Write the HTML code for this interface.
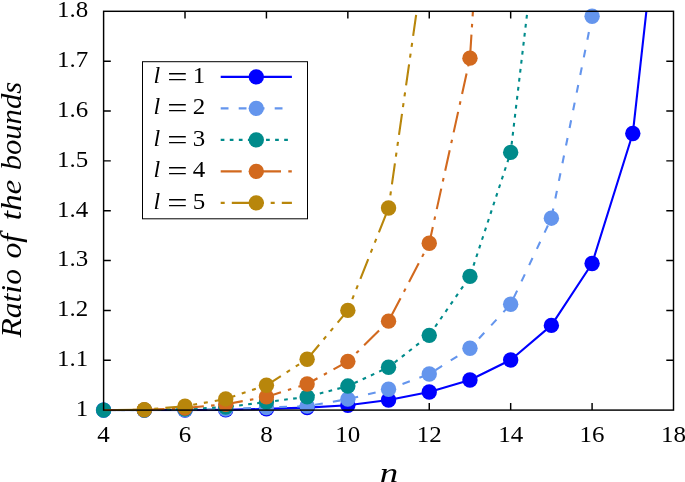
<!DOCTYPE html>
<html><head><meta charset="utf-8"><title>Ratio of the bounds</title>
<style>
html,body{margin:0;padding:0;background:#fff}
svg{display:block}
.t{font-family:"Liberation Serif","DejaVu Serif",serif;font-size:24px;fill:#000}
.L{font-family:"Liberation Serif","DejaVu Serif",serif;font-size:30px;font-style:italic;fill:#000}
</style></head><body>
<svg width="685" height="482" viewBox="0 0 685 482">
<rect width="685" height="482" fill="#fff"/>
<defs><clipPath id="c"><rect x="103.60" y="11.30" width="569.90" height="400.00"/></clipPath></defs>
<path d="M185.01 410.10v-7.20 M185.01 11.30v7.20" stroke="#000" stroke-width="1.45" fill="none"/>
<path d="M266.43 410.10v-7.20 M266.43 11.30v7.20" stroke="#000" stroke-width="1.45" fill="none"/>
<path d="M347.84 410.10v-7.20 M347.84 11.30v7.20" stroke="#000" stroke-width="1.45" fill="none"/>
<path d="M429.26 410.10v-7.20 M429.26 11.30v7.20" stroke="#000" stroke-width="1.45" fill="none"/>
<path d="M510.67 410.10v-7.20 M510.67 11.30v7.20" stroke="#000" stroke-width="1.45" fill="none"/>
<path d="M592.09 410.10v-7.20 M592.09 11.30v7.20" stroke="#000" stroke-width="1.45" fill="none"/>
<path d="M103.60 360.25h7.20 M673.50 360.25h-7.20" stroke="#000" stroke-width="1.45" fill="none"/>
<path d="M103.60 310.40h7.20 M673.50 310.40h-7.20" stroke="#000" stroke-width="1.45" fill="none"/>
<path d="M103.60 260.55h7.20 M673.50 260.55h-7.20" stroke="#000" stroke-width="1.45" fill="none"/>
<path d="M103.60 210.70h7.20 M673.50 210.70h-7.20" stroke="#000" stroke-width="1.45" fill="none"/>
<path d="M103.60 160.85h7.20 M673.50 160.85h-7.20" stroke="#000" stroke-width="1.45" fill="none"/>
<path d="M103.60 111.00h7.20 M673.50 111.00h-7.20" stroke="#000" stroke-width="1.45" fill="none"/>
<path d="M103.60 61.15h7.20 M673.50 61.15h-7.20" stroke="#000" stroke-width="1.45" fill="none"/>
<polyline clip-path="url(#c)" points="103.60,410.10 144.31,410.10 185.01,410.10 225.72,409.85 266.43,408.90 307.14,407.61 347.84,405.31 388.55,400.03 429.26,392.00 469.96,380.04 510.67,359.95 551.38,325.40 592.09,263.54 632.79,133.53 673.50,-232.96" fill="none" stroke="#0000ff" stroke-width="2.1" stroke-linejoin="round"/>
<circle cx="103.60" cy="410.10" r="7.7" fill="#0000ff"/>
<circle cx="144.31" cy="410.10" r="7.7" fill="#0000ff"/>
<circle cx="185.01" cy="410.10" r="7.7" fill="#0000ff"/>
<circle cx="225.72" cy="409.85" r="7.7" fill="#0000ff"/>
<circle cx="266.43" cy="408.90" r="7.7" fill="#0000ff"/>
<circle cx="307.14" cy="407.61" r="7.7" fill="#0000ff"/>
<circle cx="347.84" cy="405.31" r="7.7" fill="#0000ff"/>
<circle cx="388.55" cy="400.03" r="7.7" fill="#0000ff"/>
<circle cx="429.26" cy="392.00" r="7.7" fill="#0000ff"/>
<circle cx="469.96" cy="380.04" r="7.7" fill="#0000ff"/>
<circle cx="510.67" cy="359.95" r="7.7" fill="#0000ff"/>
<circle cx="551.38" cy="325.40" r="7.7" fill="#0000ff"/>
<circle cx="592.09" cy="263.54" r="7.7" fill="#0000ff"/>
<circle cx="632.79" cy="133.53" r="7.7" fill="#0000ff"/>
<polyline clip-path="url(#c)" points="103.60,410.10 144.31,410.10 185.01,409.85 225.72,409.10 266.43,407.51 307.14,406.11 347.84,399.13 388.55,389.31 429.26,374.06 469.96,348.29 510.67,304.27 551.38,218.18 592.09,16.29" fill="none" stroke="#6495ed" stroke-width="2.1" stroke-linejoin="round" stroke-dasharray="7.8 10.2" stroke-dashoffset="4.32"/>
<circle cx="103.60" cy="410.10" r="7.7" fill="#6495ed"/>
<circle cx="144.31" cy="410.10" r="7.7" fill="#6495ed"/>
<circle cx="185.01" cy="409.85" r="7.7" fill="#6495ed"/>
<circle cx="225.72" cy="409.10" r="7.7" fill="#6495ed"/>
<circle cx="266.43" cy="407.51" r="7.7" fill="#6495ed"/>
<circle cx="307.14" cy="406.11" r="7.7" fill="#6495ed"/>
<circle cx="347.84" cy="399.13" r="7.7" fill="#6495ed"/>
<circle cx="388.55" cy="389.31" r="7.7" fill="#6495ed"/>
<circle cx="429.26" cy="374.06" r="7.7" fill="#6495ed"/>
<circle cx="469.96" cy="348.29" r="7.7" fill="#6495ed"/>
<circle cx="510.67" cy="304.27" r="7.7" fill="#6495ed"/>
<circle cx="551.38" cy="218.18" r="7.7" fill="#6495ed"/>
<circle cx="592.09" cy="16.29" r="7.7" fill="#6495ed"/>
<polyline clip-path="url(#c)" points="103.60,410.10 144.31,410.10 185.01,409.10 225.72,407.11 266.43,402.02 307.14,396.89 347.84,386.07 388.55,367.28 429.26,335.33 469.96,276.40 510.67,152.38 551.38,-191.59" fill="none" stroke="#008b8b" stroke-width="2.1" stroke-linejoin="round" stroke-dasharray="3.7 5.37" stroke-dashoffset="0.35"/>
<circle cx="103.60" cy="410.10" r="7.7" fill="#008b8b"/>
<circle cx="144.31" cy="410.10" r="7.7" fill="#008b8b"/>
<circle cx="185.01" cy="409.10" r="7.7" fill="#008b8b"/>
<circle cx="225.72" cy="407.11" r="7.7" fill="#008b8b"/>
<circle cx="266.43" cy="402.02" r="7.7" fill="#008b8b"/>
<circle cx="307.14" cy="396.89" r="7.7" fill="#008b8b"/>
<circle cx="347.84" cy="386.07" r="7.7" fill="#008b8b"/>
<circle cx="388.55" cy="367.28" r="7.7" fill="#008b8b"/>
<circle cx="429.26" cy="335.33" r="7.7" fill="#008b8b"/>
<circle cx="469.96" cy="276.40" r="7.7" fill="#008b8b"/>
<circle cx="510.67" cy="152.38" r="7.7" fill="#008b8b"/>
<polyline clip-path="url(#c)" points="103.60,410.10 144.31,409.85 185.01,408.11 225.72,404.22 266.43,396.89 307.14,383.98 347.84,361.50 388.55,321.17 429.26,243.20 469.96,58.16 510.67,-586.90" fill="none" stroke="#d2691e" stroke-width="2.1" stroke-linejoin="round" stroke-dasharray="21 7.3 3.5 7.5" stroke-dashoffset="38.56"/>
<circle cx="144.31" cy="409.85" r="7.7" fill="#d2691e"/>
<circle cx="185.01" cy="408.11" r="7.7" fill="#d2691e"/>
<circle cx="225.72" cy="404.22" r="7.7" fill="#d2691e"/>
<circle cx="266.43" cy="396.89" r="7.7" fill="#d2691e"/>
<circle cx="307.14" cy="383.98" r="7.7" fill="#d2691e"/>
<circle cx="347.84" cy="361.50" r="7.7" fill="#d2691e"/>
<circle cx="388.55" cy="321.17" r="7.7" fill="#d2691e"/>
<circle cx="429.26" cy="243.20" r="7.7" fill="#d2691e"/>
<circle cx="469.96" cy="58.16" r="7.7" fill="#d2691e"/>
<polyline clip-path="url(#c)" points="103.60,410.10 144.31,409.60 185.01,406.31 225.72,398.93 266.43,385.27 307.14,359.20 347.84,310.40 388.55,207.96 429.26,-76.93" fill="none" stroke="#b8860b" stroke-width="2.1" stroke-linejoin="round" stroke-dasharray="21.2 6.85 4 6.85 4 7.1" stroke-dashoffset="38.21"/>
<circle cx="144.31" cy="409.60" r="7.7" fill="#b8860b"/>
<circle cx="185.01" cy="406.31" r="7.7" fill="#b8860b"/>
<circle cx="225.72" cy="398.93" r="7.7" fill="#b8860b"/>
<circle cx="266.43" cy="385.27" r="7.7" fill="#b8860b"/>
<circle cx="307.14" cy="359.20" r="7.7" fill="#b8860b"/>
<circle cx="347.84" cy="310.40" r="7.7" fill="#b8860b"/>
<circle cx="388.55" cy="207.96" r="7.7" fill="#b8860b"/>
<rect x="142.5" y="61.7" width="165.0" height="157.10000000000002" fill="#fff" stroke="#000" stroke-width="1"/>
<line x1="220.7" y1="76.85" x2="291.9" y2="76.85" stroke="#0000ff" stroke-width="2.1"/>
<circle cx="256.3" cy="76.85" r="7.7" fill="#0000ff"/>
<text x="153.4" y="82.65" class="t" font-style="italic">l</text>
<text transform="translate(177.4 85.85) scale(1.5 1.1)" class="t" text-anchor="middle">=</text>
<text transform="translate(199.1 82.65) scale(1.04 1)" class="t" text-anchor="middle">1</text>
<line x1="220.7" y1="108.35" x2="291.9" y2="108.35" stroke="#6495ed" stroke-width="2.1" stroke-dasharray="7.8 10.2" stroke-dashoffset="0"/>
<circle cx="256.3" cy="108.35" r="7.7" fill="#6495ed"/>
<text x="153.4" y="114.15" class="t" font-style="italic">l</text>
<text transform="translate(177.4 117.35) scale(1.5 1.1)" class="t" text-anchor="middle">=</text>
<text transform="translate(199.1 114.15) scale(1.04 1)" class="t" text-anchor="middle">2</text>
<line x1="220.7" y1="139.85" x2="291.9" y2="139.85" stroke="#008b8b" stroke-width="2.1" stroke-dasharray="3.7 5.37" stroke-dashoffset="0"/>
<circle cx="256.3" cy="139.85" r="7.7" fill="#008b8b"/>
<text x="153.4" y="145.65" class="t" font-style="italic">l</text>
<text transform="translate(177.4 148.85) scale(1.5 1.1)" class="t" text-anchor="middle">=</text>
<text transform="translate(199.1 145.65) scale(1.04 1)" class="t" text-anchor="middle">3</text>
<line x1="220.7" y1="171.35" x2="291.9" y2="171.35" stroke="#d2691e" stroke-width="2.1" stroke-dasharray="21 7.3 3.5 7.5" stroke-dashoffset="0"/>
<circle cx="256.3" cy="171.35" r="7.7" fill="#d2691e"/>
<text x="153.4" y="177.15" class="t" font-style="italic">l</text>
<text transform="translate(177.4 180.35) scale(1.5 1.1)" class="t" text-anchor="middle">=</text>
<text transform="translate(199.1 177.15) scale(1.04 1)" class="t" text-anchor="middle">4</text>
<line x1="220.7" y1="202.85" x2="291.9" y2="202.85" stroke="#b8860b" stroke-width="2.1" stroke-dasharray="21.2 6.85 4 6.85 4 7.1" stroke-dashoffset="38.9"/>
<circle cx="256.3" cy="202.85" r="7.7" fill="#b8860b"/>
<text x="153.4" y="208.65" class="t" font-style="italic">l</text>
<text transform="translate(177.4 211.85) scale(1.5 1.1)" class="t" text-anchor="middle">=</text>
<text transform="translate(199.1 208.65) scale(1.04 1)" class="t" text-anchor="middle">5</text>
<rect x="103.60" y="11.30" width="569.90" height="398.80" fill="none" stroke="#000" stroke-width="1.45"/>
<text transform="translate(103.60 442.1) scale(1.04 1)" class="t" text-anchor="middle">4</text>
<text transform="translate(185.01 442.1) scale(1.04 1)" class="t" text-anchor="middle">6</text>
<text transform="translate(266.43 442.1) scale(1.04 1)" class="t" text-anchor="middle">8</text>
<text transform="translate(347.84 442.1) scale(1.04 1)" class="t" text-anchor="middle">10</text>
<text transform="translate(429.26 442.1) scale(1.04 1)" class="t" text-anchor="middle">12</text>
<text transform="translate(510.67 442.1) scale(1.04 1)" class="t" text-anchor="middle">14</text>
<text transform="translate(592.09 442.1) scale(1.04 1)" class="t" text-anchor="middle">16</text>
<text transform="translate(673.50 442.1) scale(1.04 1)" class="t" text-anchor="middle">18</text>
<text transform="translate(88.3 416.00) scale(1.04 1)" class="t" text-anchor="end">1</text>
<text transform="translate(88.3 366.15) scale(1.04 1)" class="t" text-anchor="end">1.1</text>
<text transform="translate(88.3 316.30) scale(1.04 1)" class="t" text-anchor="end">1.2</text>
<text transform="translate(88.3 266.45) scale(1.04 1)" class="t" text-anchor="end">1.3</text>
<text transform="translate(88.3 216.60) scale(1.04 1)" class="t" text-anchor="end">1.4</text>
<text transform="translate(88.3 166.75) scale(1.04 1)" class="t" text-anchor="end">1.5</text>
<text transform="translate(88.3 116.90) scale(1.04 1)" class="t" text-anchor="end">1.6</text>
<text transform="translate(88.3 67.05) scale(1.04 1)" class="t" text-anchor="end">1.7</text>
<text transform="translate(88.3 17.20) scale(1.04 1)" class="t" text-anchor="end">1.8</text>
<text transform="translate(388.9 481.9) scale(1.32 1)" class="L" style="font-size:28px" text-anchor="middle">n</text>
<text transform="translate(21.2 337.6) rotate(-90) scale(1.055 1)" class="L">Ratio</text>
<text transform="translate(21.2 258.6) rotate(-90) scale(1.06 1)" class="L">of</text>
<text transform="translate(21.2 220.3) rotate(-90) scale(1.11 1)" class="L">the</text>
<text transform="translate(21.2 170.3) rotate(-90) scale(1.02 1)" class="L">bounds</text>
</svg>
</body></html>
